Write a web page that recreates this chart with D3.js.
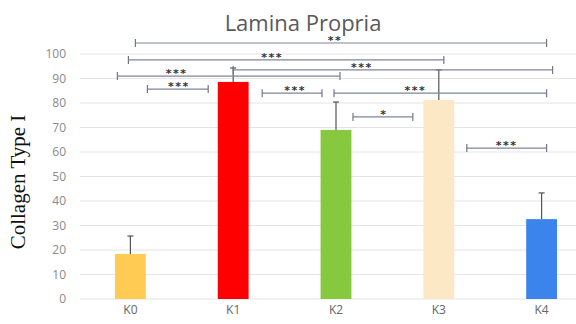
<!DOCTYPE html>
<html>
<head>
<meta charset="utf-8">
<script src="https://cdn.jsdelivr.net/npm/d3@7"></script>
<style>
  html, body { margin: 0; padding: 0; background: #fff; }
  svg { display: block; }
</style>
</head>
<body>
<svg id="chart" width="576" height="324"></svg>
<script>
// Collagen Type I in the lamina propria, per group (mean + SD)
const groups = ["K0", "K1", "K2", "K3", "K4"];
const means = [18.4, 88.6, 69.0, 81.2, 32.6];
const sds = [7.3, 5.7, 11.4, 12.3, 10.7];
const barColors = ["#FFCB52", "#FF0000", "#86C83E", "#FDE8C6", "#3B84EC"];
const yTicks = [0, 10, 20, 30, 40, 50, 60, 70, 80, 90, 100];

// Significance brackets: from group, to group, bracket level (value units), label
const sigFrom = ["K0", "K0", "K1", "K0", "K0", "K1", "K2", "K2", "K3"];
const sigTo   = ["K4", "K3", "K4", "K2", "K1", "K2", "K4", "K3", "K4"];
const sigLevel = [104.5, 97.6, 93.5, 91.0, 85.7, 84.0, 84.0, 74.3, 61.6];
const sigLabel = ["**", "***", "***", "***", "***", "***", "***", "*", "***"];
// where each bracket starts / ends relative to the group centre (px)
const sigStartShift = [5, -2, 0, -13, 17, 29, -2, 17, 28];
const sigEndShift = [5, 5, 11, 4, -25, -14, 5, -26, 5];
// horizontal nudge of each label from the bracket midpoint (px)
const sigLabelShift = [-6, -14, -31, -52, 1, 3, -25, 1, 0];

const svg = d3.select("#chart");
const W = 576;

const x = d3.scaleBand()
  .domain(groups)
  .range([79, 593])
  .paddingInner(0.7)
  .paddingOuter(0.35);

const y = d3.scaleLinear()
  .domain([0, 100])
  .range([299, 54]);

// horizontal gridlines
svg.append("g")
  .selectAll("line")
  .data(yTicks)
  .join("line")
  .attr("x1", 80).attr("x2", W)
  .attr("y1", d => y(d)).attr("y2", d => y(d))
  .attr("stroke", "#e4e4e4")
  .attr("stroke-width", 1);

// y tick labels
const yAxis = d3.axisLeft(y).tickValues(yTicks).tickSize(0).tickPadding(0);
const gy = svg.append("g").attr("transform", "translate(66,0)").call(yAxis);
gy.select(".domain").remove();
gy.selectAll("text")
  .attr("fill", "#8a8a8a")
  .attr("font-family", "Open Sans, Liberation Sans, sans-serif")
  .attr("font-size", 12);

// x category labels
const xAxis = d3.axisBottom(x).tickSize(0).tickPadding(0);
const gx = svg.append("g").attr("transform", "translate(0,305)").call(xAxis);
gx.select(".domain").remove();
gx.selectAll("text")
  .attr("fill", "#666")
  .attr("font-family", "Open Sans, Liberation Sans, sans-serif")
  .attr("font-size", 12);

// bars
svg.append("g")
  .selectAll("rect")
  .data(groups)
  .join("rect")
  .attr("x", d => x(d))
  .attr("width", x.bandwidth())
  .attr("y", (d, i) => y(means[i]))
  .attr("height", (d, i) => y(0) - y(means[i]))
  .attr("fill", (d, i) => barColors[i]);

// error bars (upper only)
const eb = svg.append("g").attr("stroke", "#555").attr("stroke-width", 1.2);
groups.forEach((g, i) => {
  const cx = x(g) + x.bandwidth() / 2;
  eb.append("line")
    .attr("x1", cx).attr("x2", cx)
    .attr("y1", y(means[i])).attr("y2", y(means[i] + sds[i]));
  eb.append("line")
    .attr("x1", cx - 3).attr("x2", cx + 3)
    .attr("y1", y(means[i] + sds[i])).attr("y2", y(means[i] + sds[i]));
});

// significance brackets
const sg = svg.append("g");
sigFrom.forEach((f, i) => {
  const x1 = x(f) + x.bandwidth() / 2 + sigStartShift[i];
  const x2 = x(sigTo[i]) + x.bandwidth() / 2 + sigEndShift[i];
  const yy = y(sigLevel[i]);
  sg.append("line")
    .attr("x1", x1).attr("x2", x2).attr("y1", yy).attr("y2", yy)
    .attr("stroke", "#7d8698").attr("stroke-width", 1.2);
  [x1, x2].forEach(xe => {
    sg.append("line")
      .attr("x1", xe).attr("x2", xe).attr("y1", yy - 4).attr("y2", yy + 4)
      .attr("stroke", "#6f7789").attr("stroke-width", 1.2);
  });
  sg.append("text")
    .attr("x", (x1 + x2) / 2 + sigLabelShift[i])
    .attr("y", yy + 1)
    .attr("text-anchor", "middle")
    .attr("fill", "#333")
    .attr("font-family", "DejaVu Sans, sans-serif")
    .attr("font-weight", "bold")
    .attr("font-size", 11)
    .attr("letter-spacing", 1.5)
    .text(sigLabel[i]);
});

// title
svg.append("text")
  .attr("x", 303).attr("y", 31)
  .attr("text-anchor", "middle")
  .attr("fill", "#595959")
  .attr("font-family", "Open Sans, Liberation Sans, sans-serif")
  .attr("font-size", 22)
  .text("Lamina Propria");

// y-axis title
svg.append("text")
  .attr("transform", "translate(25,182) rotate(-90)")
  .attr("text-anchor", "middle")
  .attr("fill", "#111")
  .attr("font-family", "Liberation Serif, Times New Roman, serif")
  .attr("font-size", 21)
  .text("Collagen Type I");
</script>
</body>
</html>
